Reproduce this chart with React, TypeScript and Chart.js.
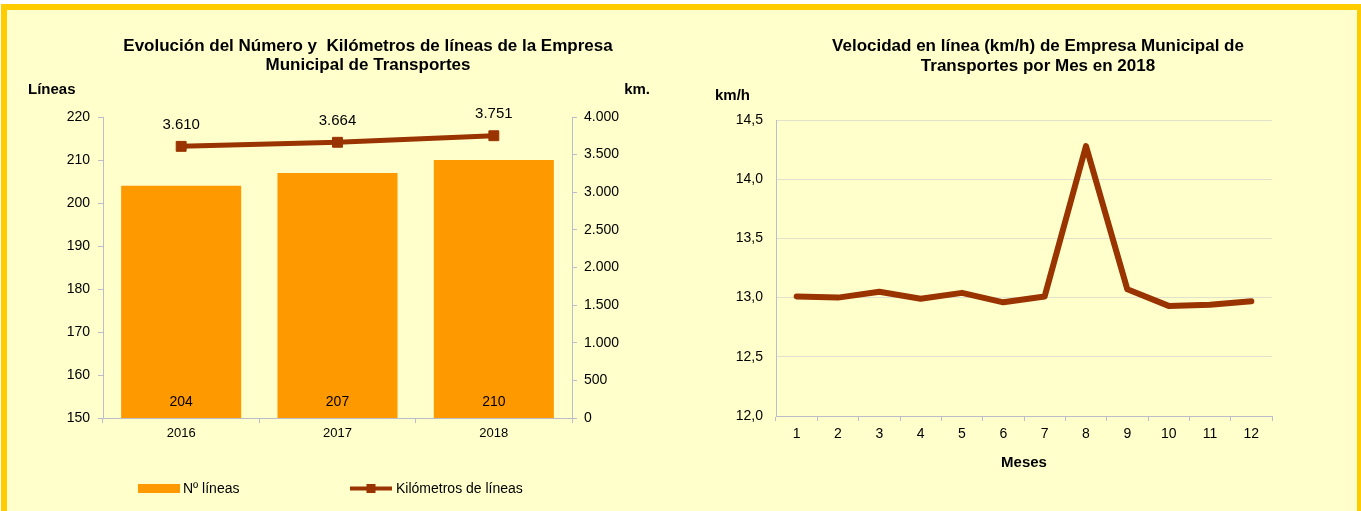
import React, { useEffect, useRef } from 'react';
import { Chart, registerables } from 'chart.js';

Chart.register(...registerables);

const FONT = '"Liberation Sans", Arial, Helvetica, sans-serif';

const years = ['2016', '2017', '2018'];
const lineCounts = [204, 207, 210];
const kmValues = [3610, 3664, 3751];

const months = ['1', '2', '3', '4', '5', '6', '7', '8', '9', '10', '11', '12'];
const speeds = [13.01, 13.0, 13.05, 12.99, 13.04, 12.96, 13.01, 14.28, 13.07, 12.93, 12.94, 12.97];

const leftTitle = ['Evolución del Número y  Kilómetros de líneas de la Empresa', 'Municipal de Transportes'];
const rightTitle = ['Velocidad en línea (km/h) de Empresa Municipal de', 'Transportes por Mes en 2018'];
const leftAxisTitle = 'Líneas';
const rightAxisTitle = 'km.';
const speedAxisTitle = 'km/h';
const monthAxisTitle = 'Meses';
const legendLabels = ['Nº líneas', 'Kilómetros de líneas'];

const ORANGE = '#FF9900';
const BROWN = '#993300';
const AXIS = '#BCBCCC';

const fmtThousands = (v: number) => String(Math.round(v)).replace(/\B(?=(\d{3})+(?!\d))/g, '.');
const fmtDecimal = (v: number) => Number(v).toFixed(1).replace('.', ',');

const leftDecor = {
  id: 'leftDecor',
  afterDatasetsDraw(chart: any) {
    const ctx = chart.ctx as CanvasRenderingContext2D;
    ctx.save();
    ctx.fillStyle = '#000';
    ctx.textBaseline = 'alphabetic';
    ctx.textAlign = 'center';
    ctx.font = `bold 17px ${FONT}`;
    ctx.fillText(leftTitle[0], 368, 51);
    ctx.fillText(leftTitle[1], 368, 70);

    ctx.font = `bold 15px ${FONT}`;
    ctx.textAlign = 'left';
    ctx.fillText(leftAxisTitle, 28, 94);
    ctx.textAlign = 'right';
    ctx.fillText(rightAxisTitle, 650, 94);

    // line labels
    const lineMeta = chart.getDatasetMeta(0);
    ctx.font = `15px ${FONT}`;
    ctx.textAlign = 'center';
    lineMeta.data.forEach((pt: any, i: number) => {
      ctx.fillText(fmtThousands(kmValues[i]), pt.x, pt.y - 17.5);
    });
    // bar labels
    const barMeta = chart.getDatasetMeta(1);
    ctx.font = `14px ${FONT}`;
    barMeta.data.forEach((bar: any, i: number) => {
      ctx.fillText(String(lineCounts[i]), bar.x, chart.chartArea.bottom - 12);
    });

    // legend
    ctx.fillStyle = ORANGE;
    ctx.fillRect(138, 484, 42, 9);
    ctx.strokeStyle = BROWN;
    ctx.lineWidth = 4;
    ctx.beginPath();
    ctx.moveTo(350, 488.5);
    ctx.lineTo(392, 488.5);
    ctx.stroke();
    ctx.fillStyle = BROWN;
    ctx.fillRect(366.5, 484, 9, 9);
    ctx.fillStyle = '#000';
    ctx.font = `14px ${FONT}`;
    ctx.textAlign = 'left';
    ctx.textBaseline = 'middle';
    ctx.fillText(legendLabels[0], 183, 489);
    ctx.fillText(legendLabels[1], 396, 489);
    ctx.restore();
  },
};

const rightDecor = {
  id: 'rightDecor',
  afterDraw(chart: any) {
    const ctx = chart.ctx as CanvasRenderingContext2D;
    ctx.save();
    ctx.fillStyle = '#000';
    ctx.textBaseline = 'alphabetic';
    ctx.textAlign = 'center';
    ctx.font = `bold 17px ${FONT}`;
    ctx.fillText(rightTitle[0], 358, 51);
    ctx.fillText(rightTitle[1], 358, 71);
    ctx.font = `bold 15px ${FONT}`;
    ctx.textAlign = 'left';
    ctx.fillText(speedAxisTitle, 35, 100);
    ctx.restore();
  },
};

export default function App() {
  const leftRef = useRef<HTMLCanvasElement>(null);
  const rightRef = useRef<HTMLCanvasElement>(null);

  useEffect(() => {
    Chart.defaults.font.family = FONT;
    Chart.defaults.color = '#000';

    const left = new Chart(leftRef.current as HTMLCanvasElement, {
      type: 'bar',
      data: {
        labels: years,
        datasets: [
          {
            type: 'line',
            label: legendLabels[1],
            data: kmValues,
            yAxisID: 'y1',
            borderColor: BROWN,
            backgroundColor: BROWN,
            borderWidth: 5,
            pointStyle: 'rect',
            pointRadius: 7,
            pointBorderWidth: 1,
            pointBackgroundColor: BROWN,
            pointBorderColor: BROWN,
            tension: 0,
            order: 0,
          } as any,
          {
            type: 'bar',
            label: legendLabels[0],
            data: lineCounts,
            yAxisID: 'y',
            backgroundColor: ORANGE,
            borderWidth: 0,
            barPercentage: 0.96,
            categoryPercentage: 0.8,
            order: 1,
          } as any,
        ],
      },
      options: {
        responsive: false,
        animation: false,
        devicePixelRatio: 1,
        layout: { padding: { top: 117, bottom: 0, left: 0, right: 0 } },
        plugins: { legend: { display: false }, tooltip: { enabled: false }, title: { display: false } },
        scales: {
          x: {
            type: 'category',
            offset: true,
            grid: { offset: true, drawOnChartArea: false, drawTicks: true, tickLength: 5, color: AXIS },
            border: { color: AXIS },
            ticks: { font: { size: 13 }, color: '#000', padding: 3 },
            afterFit: (s: any) => { s.height = 93; },
          },
          y: {
            position: 'left',
            min: 150,
            max: 220,
            ticks: { stepSize: 10, font: { size: 14 }, color: '#000', padding: 8 },
            grid: { drawOnChartArea: false, drawTicks: true, tickLength: 5, color: AXIS },
            border: { color: AXIS },
            afterFit: (s: any) => { s.width = 103; },
          },
          y1: {
            position: 'right',
            min: 0,
            max: 4000,
            ticks: { stepSize: 500, font: { size: 14 }, color: '#000', padding: 7, callback: (v: any) => fmtThousands(Number(v)) },
            grid: { drawOnChartArea: false, drawTicks: true, tickLength: 5, color: AXIS },
            border: { color: AXIS },
            afterFit: (s: any) => { s.width = 108; },
          },
        },
      } as any,
      plugins: [leftDecor],
    });

    const right = new Chart(rightRef.current as HTMLCanvasElement, {
      type: 'line',
      data: {
        labels: months,
        datasets: [
          {
            label: 'Velocidad',
            data: speeds,
            borderColor: BROWN,
            backgroundColor: BROWN,
            borderWidth: 6,
            pointRadius: 0,
            tension: 0,
            borderJoinStyle: 'round',
            borderCapStyle: 'round',
          } as any,
        ],
      },
      options: {
        responsive: false,
        animation: false,
        devicePixelRatio: 1,
        layout: { padding: { top: 120, bottom: 0, left: 0, right: 89 } },
        plugins: { legend: { display: false }, tooltip: { enabled: false }, title: { display: false } },
        scales: {
          x: {
            type: 'category',
            offset: true,
            grid: { offset: true, drawOnChartArea: false, drawTicks: true, tickLength: 5, color: AXIS },
            border: { color: AXIS },
            ticks: { font: { size: 14 }, color: '#000', padding: 5 },
            title: { display: true, text: monthAxisTitle, font: { size: 15, weight: 'bold' }, color: '#000', padding: { top: 0, bottom: 39 } },
            afterFit: (s: any) => { s.height = 95; },
          },
          y: {
            min: 12,
            max: 14.5,
            ticks: { stepSize: 0.5, font: { size: 14 }, color: '#000', padding: 13, callback: (v: any) => fmtDecimal(Number(v)) },
            grid: { drawOnChartArea: true, drawTicks: false, color: '#E2E2CC', lineWidth: 1 },
            border: { color: AXIS },
            afterFit: (s: any) => { s.width = 96; },
          },
        },
      } as any,
      plugins: [rightDecor],
    });

    return () => {
      left.destroy();
      right.destroy();
    };
  }, []);

  return (
    <div style={{ position: 'fixed', left: 0, top: 0, width: 1361, height: 511, overflow: 'hidden', background: '#FFFFFF' }}>
      <div
        style={{
          position: 'absolute',
          left: 1,
          top: 4,
          width: 1362,
          height: 600,
          boxSizing: 'border-box',
          border: '6px solid #FFCC00',
          background: '#FFFFCC',
        }}
      />
      <canvas ref={leftRef} width={680} height={511} style={{ position: 'absolute', left: 0, top: 0, width: 680, height: 511 }} />
      <canvas ref={rightRef} width={681} height={511} style={{ position: 'absolute', left: 680, top: 0, width: 681, height: 511 }} />
    </div>
  );
}
